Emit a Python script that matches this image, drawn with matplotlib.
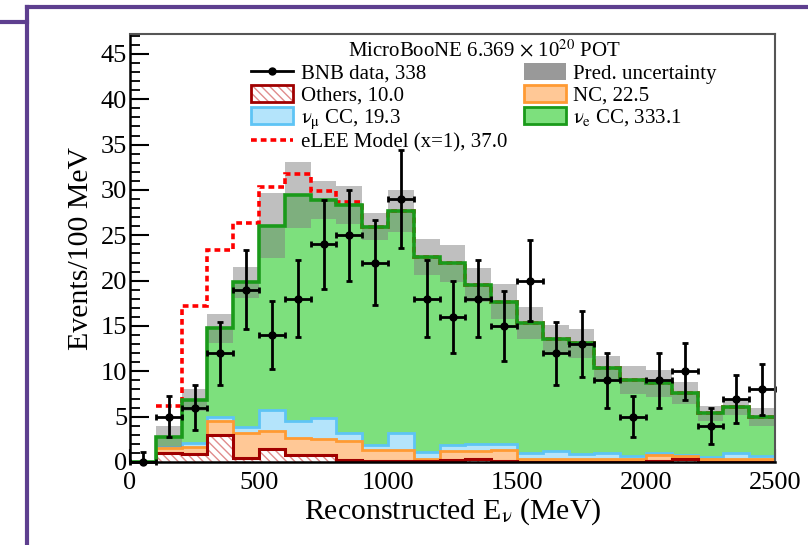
import matplotlib
matplotlib.use('Agg')
import matplotlib.pyplot as plt
from matplotlib.lines import Line2D
from matplotlib.patches import Patch
from matplotlib.legend_handler import HandlerTuple
from matplotlib.ticker import MultipleLocator
import numpy as np

plt.rcParams['font.family'] = ['Liberation Serif', 'DejaVu Serif']
plt.rcParams['mathtext.fontset'] = 'stix'
plt.rcParams['hatch.color'] = '#e08c8c'
plt.rcParams['hatch.linewidth'] = 1.0

# 100 MeV bins, 0 - 2500 MeV
bin_edges = np.arange(0, 2600, 100)

data = [0, 5, 6, 12, 19, 14, 18, 24, 25, 22, 29, 18, 16, 18, 15, 20, 12, 13, 9, 5, 9, 10, 4, 7, 8]
data_err_zero = 1.15  # upper error shown for the empty first bin

others = [0, 1.0, 0.9, 3.0, 0.4, 1.4, 0.8, 0.8, 0.2, 0.1, 0.1, 0.1, 0.2,
          0.3, 0.1, 0.05, 0.05, 0.05, 0.05, 0.05, 0.1, 0.3, 0.05, 0.05, 0.05]
nc = [0, 0.5, 0.8, 1.55, 2.8, 2.0, 1.8, 1.7, 2.15, 1.25, 1.25, 0.25, 1.0,
      0.95, 1.25, 0.3, 0.3, 0.3, 0.3, 0.3, 0.7, 0.4, 0.25, 0.25, 0.25]
numu_cc = [0, 0.2, 0.35, 0.45, 0.7, 2.3, 1.9, 2.4, 0.8, 0.5, 1.85, 0.75, 0.7,
           0.75, 0.6, 0.65, 0.9, 0.55, 0.6, 0.35, 0.15, 0.05, 0.3, 0.7, 0.35]
nue_cc = [0, 1.1, 4.8, 9.75, 15.9, 20.35, 24.95, 24.0, 25.2, 24.1, 24.5, 21.5, 20.0,
          17.5, 15.75, 14.35, 12.35, 12.2, 9.4, 8.35, 7.75, 6.85, 4.75, 5.1, 4.35]
pred_err = [0, 1.2, 1.2, 1.6, 1.7, 3.6, 3.65, 2.1, 2.1, 1.5, 2.3, 2.0, 2.0,
            1.9, 1.9, 1.75, 1.5, 1.6, 1.3, 1.5, 1.5, 1.2, 0.85, 0.9, 1.0]
elee_signal = [0, 3.4, 10.35, 8.65, 6.6, 4.25, 2.3, 1.0, 0.3, 0, 0, 0, 0,
               0, 0, 0, 0, 0, 0, 0, 0, 0, 0, 0, 0]

c_others = np.array(others)
c_nc = c_others + np.array(nc)
c_numu = c_nc + np.array(numu_cc)
c_total = c_numu + np.array(nue_cc)
err = np.array(pred_err)

col_nue, edge_nue = '#7de07d', '#1a9a1a'
col_numu, edge_numu = '#b4e4fb', '#5ec4f5'
col_nc, edge_nc = '#ffc896', '#ff9a33'
edge_others = '#a00000'

fig = plt.figure(figsize=(8.08, 5.45), dpi=100)
ax = fig.add_axes([130 / 808, 1 - 462 / 545, 645 / 808, 428 / 545])

# stacked histogram, drawn from the top layer down
ax.stairs(c_total, bin_edges, fill=True, facecolor=col_nue, zorder=2)
ax.stairs(c_numu, bin_edges, fill=True, facecolor=col_numu, edgecolor=edge_numu, lw=2, zorder=2.1)
ax.stairs(c_nc, bin_edges, fill=True, facecolor=col_nc, edgecolor=edge_nc, lw=2, zorder=2.2)
ax.stairs(c_others, bin_edges, fill=True, facecolor='white', hatch='\\\\\\\\', zorder=2.3)
ax.stairs(c_others, bin_edges, fill=False, edgecolor=edge_others, lw=2.2, zorder=2.4)

# prediction uncertainty
ax.stairs(c_total + err, bin_edges, baseline=c_total - err, fill=True,
          facecolor='#808080', alpha=0.5, lw=0, zorder=3)

# eLEE model
elee_total = c_total + np.array(elee_signal)
ax.stairs(elee_total[1:], bin_edges[1:], baseline=None, edgecolor='#ff0000',
          lw=2.6, ls=(0, (1.6, 1.1)), zorder=3.2)
ax.stairs(c_total, bin_edges, baseline=None, edgecolor=edge_nue, lw=2.6, zorder=3.3)

# data
centers = 0.5 * (bin_edges[:-1] + bin_edges[1:])
d = np.array(data, dtype=float)
err_lo = np.sqrt(d)
err_up = np.sqrt(d)
err_up[0] = data_err_zero
ax.errorbar(centers, d, xerr=50, yerr=[err_lo, err_up], fmt='o', color='black',
            ms=5, elinewidth=2, capsize=2.5, capthick=2, zorder=4, clip_on=False)

ax.set_xlim(0, 2500)
ax.set_ylim(0, 47.2)
ax.xaxis.set_major_locator(MultipleLocator(500))
ax.xaxis.set_minor_locator(MultipleLocator(100))
ax.yaxis.set_major_locator(MultipleLocator(5))
ax.yaxis.set_minor_locator(MultipleLocator(1))
ax.tick_params(axis='y', which='major', direction='in', length=13.5, width=1.5, labelsize=19, pad=2)
ax.tick_params(axis='y', which='minor', direction='in', length=7, width=1.3)
ax.tick_params(axis='x', which='major', direction='in', length=9.5, width=1.5, labelsize=19, pad=7)
ax.tick_params(axis='x', which='minor', direction='in', length=5, width=1.3)
for side in ['left', 'bottom']:
    ax.spines[side].set_linewidth(1.8)
for side in ['top', 'right']:
    ax.spines[side].set_linewidth(1.5)
    ax.spines[side].set_color('#555555')
for s in ax.spines.values():
    s.set_zorder(5)

ax.set_xlabel('Reconstructed E$_{\\mathrm{\\nu}}$ (MeV)', fontsize=21.5, labelpad=2)
ax.set_ylabel('Events/100 MeV', fontsize=21.5, labelpad=5)

# legend
h_data = Line2D([], [], color='black', marker='o', ms=5, lw=2)
h_others = (Patch(facecolor='white', hatch='\\\\\\\\', lw=0),
            Patch(facecolor='none', edgecolor=edge_others, lw=2))
h_numu = Patch(facecolor=col_numu, edgecolor=edge_numu, lw=2)
h_elee = Line2D([], [], color='#ff0000', lw=2.6, ls=(0, (1.6, 1.1)))
h_unc = Patch(facecolor='#808080', alpha=0.8, lw=0)
h_nc = Patch(facecolor=col_nc, edgecolor=edge_nc, lw=2)
h_nue = Patch(facecolor=col_nue, edgecolor=edge_nue, lw=2)
labels = ['BNB data, 338', 'Others, 10.0', '$\\mathrm{\\nu_{\\mu}}$ CC, 19.3',
          'eLEE Model (x=1), 37.0', 'Pred. uncertainty', 'NC, 22.5',
          '$\\mathrm{\\nu_{e}}$ CC, 333.1']
leg = ax.legend([h_data, h_others, h_numu, h_elee, h_unc, h_nc, h_nue], labels,
                ncol=2, loc='upper center', bbox_to_anchor=(0.549, 1.015),
                frameon=False, fontsize=15, handlelength=2.0, handleheight=0.85,
                handletextpad=0.38, labelspacing=0.07, columnspacing=0.8,
                borderpad=0.1, handler_map={tuple: HandlerTuple(ndivide=1)},
                title='MicroBooNE 6.369 $\\times$ 10$^{20}$ POT',
                title_fontproperties={'size': 15, 'family': 'Liberation Serif'})
leg.set_zorder(6)

# purple slide frame
purple = '#5e3f8f'
fig.add_artist(Line2D([27 / 808, 1], [1 - 7 / 545, 1 - 7 / 545], color=purple, lw=3))
fig.add_artist(Line2D([27 / 808, 27 / 808], [0, 1 - 7 / 545], color=purple, lw=3))
fig.add_artist(Line2D([0, 27 / 808], [1 - 22 / 545, 1 - 22 / 545], color=purple, lw=3))

fig.savefig('out.png', dpi=100)
